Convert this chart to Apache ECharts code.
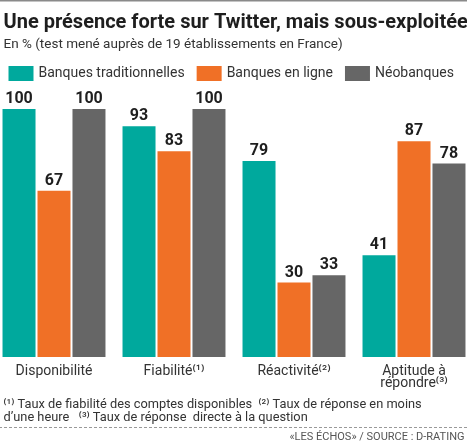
<!DOCTYPE html>
<html><head><meta charset="utf-8">
<script src="https://cdn.jsdelivr.net/npm/echarts@6/dist/echarts.min.js"></script>
<style>html,body{margin:0;padding:0;background:#fff;overflow:hidden;width:467px;height:444px}#c{position:absolute;left:-6.5px;top:0;width:480px;height:444px}</style>
</head><body><div id="c"></div>
<script>
const categories = ['Disponibilité', 'Fiabilité⁽¹⁾', 'Réactivité⁽²⁾', 'Aptitude à\nrépondre⁽³⁾'];
const seriesNames = ['Banques traditionnelles', 'Banques en ligne', 'Néobanques'];
const traditionnelles = [100, 93, 79, 41];
const enLigne = [67, 83, 30, 87];
const neobanques = [100, 100, 33, 78];
const colors = ['#00A99D', '#F07026', '#666666'];
const FONT = 'Roboto';
const OX = 6.5; // container offset

const chart = echarts.init(document.getElementById('c'), null, {renderer: 'canvas'});
const mk = (name, data, color) => ({
  name, type: 'bar', data, barWidth: 33, barGap: '6%',
  itemStyle: {color},
  label: {show: true, position: 'top', distance: 2, color: '#1e1e1e', fontFamily: FONT, fontWeight: 'bold', fontSize: 16}
});
chart.setOption({
  animation: false,
  textStyle: {fontFamily: FONT},
  grid: {left: 0, right: 0, top: 109, bottom: 87, containLabel: false},
  legend: {
    left: 3 + OX, top: 61, width: 470, itemWidth: 25, itemHeight: 15, itemGap: 12, icon: 'rect',
    textStyle: {fontFamily: FONT, fontSize: 14, color: '#333'},
    data: seriesNames
  },
  xAxis: {
    type: 'category', data: categories,
    axisLine: {show: false}, axisTick: {show: false},
    axisLabel: {interval: 0, margin: 8, fontSize: 14, color: '#333', fontFamily: FONT, lineHeight: 12}
  },
  yAxis: {type: 'value', min: 0, max: 100, show: false},
  series: [mk(seriesNames[0], traditionnelles, colors[0]), mk(seriesNames[1], enLigne, colors[1]), mk(seriesNames[2], neobanques, colors[2])],
  graphic: [
    {type: 'rect', shape: {x: 0, y: 0, width: 480, height: 1.5}, style: {fill: '#8a8a8a'}},
    {type: 'text', left: 3 + OX, top: 13, style: {text: 'Une présence forte sur Twitter, mais sous-exploitée', font: 'bold 20px ' + FONT, fill: '#1e1e1e'}},
    {type: 'text', left: 3 + OX, top: 38, style: {text: 'En % (test mené auprès de 19 établissements en France)', font: '13.5px ' + FONT, fill: '#333'}},
    {type: 'text', left: 3 + OX, top: 398, style: {
      text: '⁽¹⁾ Taux de fiabilité des comptes disponibles  ⁽²⁾ Taux de réponse en moins\nd\u2019une heure   ⁽³⁾ Taux de réponse  directe à la question',
      font: '12.8px ' + FONT, fill: '#333', lineHeight: 13.5}},
    {type: 'line', shape: {x1: 0, y1: 427.5, x2: 480, y2: 427.5}, style: {stroke: '#999', lineWidth: 1, lineDash: [3, 2]}},
    {type: 'text', right: 3 + OX, top: 432, style: {text: '\u00abLES ÉCHOS\u00bb / SOURCE : D-RATING', font: '11px ' + FONT, fill: '#555'}}
  ]
});
</script></body></html>
